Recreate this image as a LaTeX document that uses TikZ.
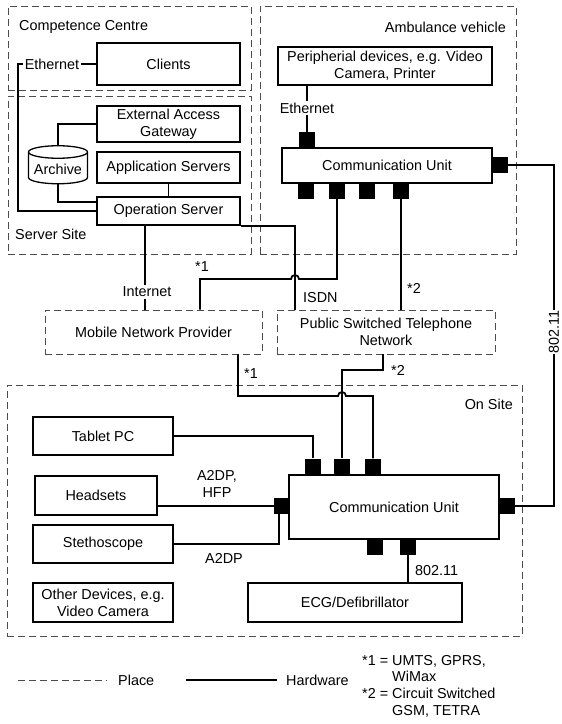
\documentclass[tikz,border=0pt]{standalone}
\usepackage{fontspec}
\setmainfont{Liberation Sans}
\usetikzlibrary{shapes.geometric}

\begin{document}
\begin{tikzpicture}[x=1pt,y=-1pt,
    every node/.style={font=\fontsize{14.4}{16.7}\selectfont, inner sep=2pt},
    place/.style={draw=black!70, line width=0.9pt, dash pattern=on 7pt off 4pt},
    hw/.style={draw, line width=1.3pt, align=center},
    port/.style={fill=black, minimum size=16pt, inner sep=0pt},
    link/.style={line width=1.8pt},
    tag/.style={fill=white}]
    \useasboundingbox (0,0) rectangle (562,724);

    % places
    \node[place, minimum width=243pt, minimum height=84pt] (cc) at (129.5,48) {};
    \node[place, minimum width=243pt, minimum height=158pt] (ss) at (129.5,175) {};
    \node[place, minimum width=256pt, minimum height=248pt] (amb) at (388,130) {};
    \node[place, minimum width=217pt, minimum height=44pt] (mnp) at (153.5,332) {Mobile Network Provider};
    \node[place, minimum width=218pt, minimum height=44pt, align=center] (pstn) at (386,332) {Public Switched Telephone\\Network};
    \node[place, minimum width=515pt, minimum height=251pt] (site) at (264.5,510.5) {};
    \node[anchor=west] (lcc) at (17,27) {Competence Centre};
    \node[anchor=west] (lss) at (13,234) {Server Site};
    \node[anchor=east] (lamb) at (508,27) {Ambulance vehicle};
    \node[anchor=east] (lsite) at (515,404) {On Site};

    % hardware
    \node[hw, minimum width=143pt, minimum height=42pt] (clients) at (168.5,64) {Clients};
    \node[hw, minimum width=143pt, minimum height=36pt] (eag) at (168.5,124) {External Access\\Gateway};
    \node[hw, minimum width=143pt, minimum height=31pt] (apps) at (168.5,167.5) {Application Servers};
    \node[hw, minimum width=143pt, minimum height=28pt] (ops) at (168.5,211) {Operation Server};
    \node[cylinder, shape border rotate=90, draw, line width=1.3pt, aspect=0.25,
          minimum width=59pt, minimum height=38pt, inner sep=1pt] (archive) at (58,169) {Archive};
    \node[hw, minimum width=214pt, minimum height=38pt] (periph) at (385,66) {Peripherial devices, e.g. Video\\Camera, Printer};
    \node[hw, minimum width=210pt, minimum height=35pt] (cua) at (387,165.5) {Communication Unit};
    \node[hw, minimum width=140pt, minimum height=38pt] (tablet) at (103,436) {Tablet PC};
    \node[hw, minimum width=122pt, minimum height=39pt] (headsets) at (96,495.5) {Headsets};
    \node[hw, minimum width=140pt, minimum height=38pt] (stetho) at (103,544) {Stethoscope};
    \node[hw, minimum width=140pt, minimum height=39pt] (other) at (103,602.5) {Other Devices, e.g.\\Video Camera};
    \node[hw, minimum width=210pt, minimum height=64pt] (cus) at (394,507) {Communication Unit};
    \node[hw, minimum width=214pt, minimum height=39pt] (ecg) at (355,602.5) {ECG/Defibrillator};

    % ports
    \node[port] (pa0) at (307,140) {};
    \node[port] (par) at (500,165) {};
    \node[port] (pa1) at (306,191) {};
    \node[port] (pa2) at (337,191) {};
    \node[port] (pa3) at (367,191) {};
    \node[port] (pa4) at (401,191) {};
    \node[port] (pst1) at (313,466.5) {};
    \node[port] (pst2) at (342,466.5) {};
    \node[port] (pst3) at (373,466.5) {};
    \node[port] (psl) at (282,506) {};
    \node[port] (psr) at (507,506) {};
    \node[port] (psb1) at (375,547) {};
    \node[port] (psb2) at (408,547) {};

    % links
    \draw[link] (clients.west) -- ++(-78,0) |- (ops.west);
    \node[tag] (eth1) at (52,64) {Ethernet};
    \draw[link] (archive.north) |- (eag.west);
    \draw[link] (archive.south) |- ([yshift=9pt]ops.west);
    \draw[link] (apps.south) -- (ops.north);
    \draw[link] (ops.south -| 145,0) -- (mnp.north -| 145,0);
    \node[tag] (inet) at (147,292) {Internet};
    \draw[link] (ops.south east) -| (pstn.north -| 295,0);
    \node[anchor=west] (isdn) at (301,298) {ISDN};

    \draw[link] (periph.south -| pa0) -- (pa0.north);
    \node[tag] (eth2) at (307,108) {Ethernet};
    \draw[link] (pa2.south) |- (299,279) arc[start angle=0, end angle=-180, radius=4] -| (mnp.north -| 200,0);
    \node (n1a) at (202,267) {*1};
    \draw[link] (pa4.south) -- (pstn.north -| pa4);
    \node (n2a) at (414,288) {*2};
    \draw[link] (par.east) -- ++(46,0) |- (psr.east);
    \node[tag, rotate=90, inner sep=1pt] (wl1) at (554,332) {802.11};

    \draw[link] (mnp.south -| 238,0) |- (338,396) arc[start angle=180, end angle=360, radius=4] -| (pst3.north);
    \node (n1b) at (251,374) {*1};
    \draw[link] (pstn.south -| 383,0) |- (pst2.north |- 0,370) -- (pst2.north);
    \node (n2b) at (398,370) {*2};
    \draw[link] (tablet.east) -| (pst1.north);
    \draw[link] (headsets.east |- psl) -- (psl.west);
    \draw[link] (stetho.east) -| ([xshift=-3pt]psl.south);
    \draw[link] (psb2.south) -- (ecg.north -| psb2);
    \node[anchor=west] (wl2) at (413,571) {802.11};
    \node[align=center] (bt1) at (217,484) {A2DP,\\HFP};
    \node (bt2) at (224,558) {A2DP};

    % legend
    \coordinate (lg1) at (18,680);
    \coordinate (lg2) at (107,680);
    \coordinate (lg3) at (186,680);
    \coordinate (lg4) at (277,680);
    \draw[place] (lg1) -- (lg2);
    \node[anchor=west] (lplace) at (116,680) {Place};
    \draw[line width=1.2pt] (lg3) -- (lg4);
    \node[anchor=west] (lhw) at (284,680) {Hardware};
    \node[anchor=north west, align=left, inner sep=0pt] (notes) at (362,655)
        {*1 = UMTS, GPRS,\\\phantom{*1 = }WiMax\\*2 = Circuit Switched\\\phantom{*2 = }GSM, TETRA};
\end{tikzpicture}
\end{document}
